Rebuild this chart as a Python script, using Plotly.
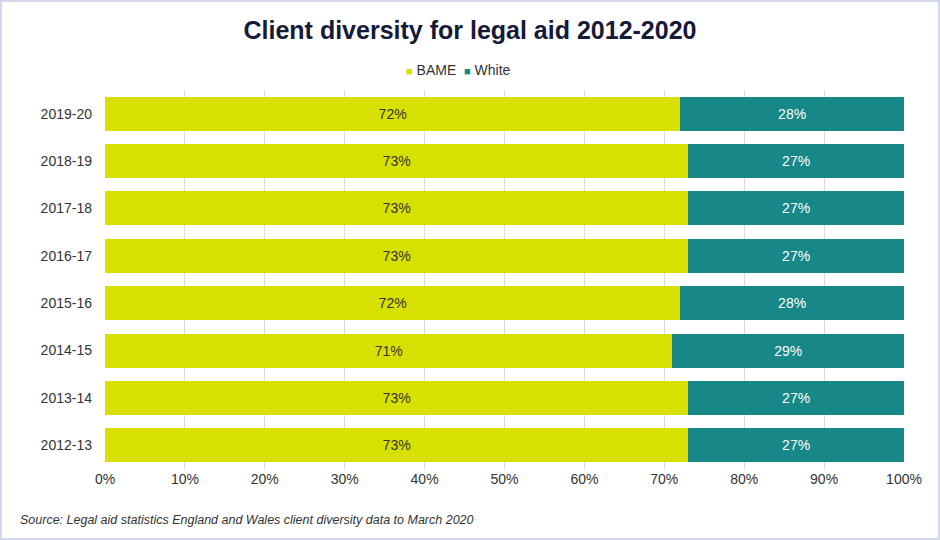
import plotly.graph_objects as go

years = ["2012-13", "2013-14", "2014-15", "2015-16", "2016-17", "2017-18", "2018-19", "2019-20"]
bame = [73, 73, 71, 72, 73, 73, 73, 72]
white = [27, 27, 29, 28, 27, 27, 27, 28]
x_ticks = [0, 10, 20, 30, 40, 50, 60, 70, 80, 90, 100]
x_tick_labels = [f"{v}%" for v in x_ticks]

BAME_COLOR = "#d7e000"
WHITE_COLOR = "#178787"
FONT = "Liberation Sans, Arial"

W, H = 940, 540
L, R, T, B = 105, 36, 90, 71
pw, ph = W - L - R, H - T - B

fig = go.Figure()
fig.add_trace(go.Bar(
    y=years, x=bame, name="BAME", orientation="h",
    marker=dict(color=BAME_COLOR, line=dict(width=0)),
    text=[f"{v}%" for v in bame], textposition="inside", insidetextanchor="middle",
    textfont=dict(color="#333333", size=14, family=FONT),
    showlegend=False,
))
fig.add_trace(go.Bar(
    y=years, x=white, name="White", orientation="h",
    marker=dict(color=WHITE_COLOR, line=dict(width=0)),
    text=[f"{v}%" for v in white], textposition="inside", insidetextanchor="middle",
    textfont=dict(color="#ffffff", size=14, family=FONT),
    showlegend=False,
))

fig.update_layout(
    width=W, height=H,
    barmode="stack", bargap=0.28,
    margin=dict(l=L, r=R, t=T, b=B),
    paper_bgcolor="white", plot_bgcolor="white",
    font=dict(family=FONT, size=14, color="#333333"),
    title=dict(text="<b>Client diversity for legal aid 2012-2020</b>", x=0.5, xanchor="center",
               y=1 - 30 / H, yanchor="middle",
               font=dict(size=25, color="#15193a", family=FONT)),
    uniformtext=dict(mode="show", minsize=12),
)
fig.update_xaxes(range=[0, 100], tickvals=x_ticks, ticktext=x_tick_labels,
                 showgrid=True, gridcolor="#d9d9d9", gridwidth=1, zeroline=False,
                 showline=False, ticks="", tickfont=dict(size=14, color="#333333"))
fig.update_yaxes(showgrid=False, ticks="", tickfont=dict(size=14, color="#333333"),
                 ticklabelstandoff=12)

# legend (compact, like the original)
legend_html = (f"<span style='color:{BAME_COLOR};font-size:11px'>■</span> BAME  "
               f"<span style='color:{WHITE_COLOR};font-size:11px'>■</span> White")
fig.add_annotation(text=legend_html, xref="paper", yref="paper", x=(458 - L) / pw, xanchor="center",
                   y=1 + (T - 70) / ph, yanchor="middle", showarrow=False,
                   font=dict(size=14, color="#333333", family=FONT))

fig.add_annotation(text="<i>Source: Legal aid statistics England and Wales client diversity data to March 2020</i>",
                   xref="paper", yref="paper", x=-(L - 18) / pw, xanchor="left",
                   y=-(520 - (H - B)) / ph, yanchor="middle", showarrow=False,
                   font=dict(size=12.5, color="#333333", family=FONT))
fig.add_shape(type="rect", xref="paper", yref="paper",
              x0=-(L - 1) / pw, x1=1 + (R - 1) / pw, y0=-(B - 1) / ph, y1=1 + (T - 1) / ph,
              line=dict(color="#d4d8ec", width=2), fillcolor="rgba(0,0,0,0)", layer="below")

fig.write_html("out.html", config={"displayModeBar": False},
               post_script="document.body.style.margin='0';document.body.style.overflow='hidden';")
